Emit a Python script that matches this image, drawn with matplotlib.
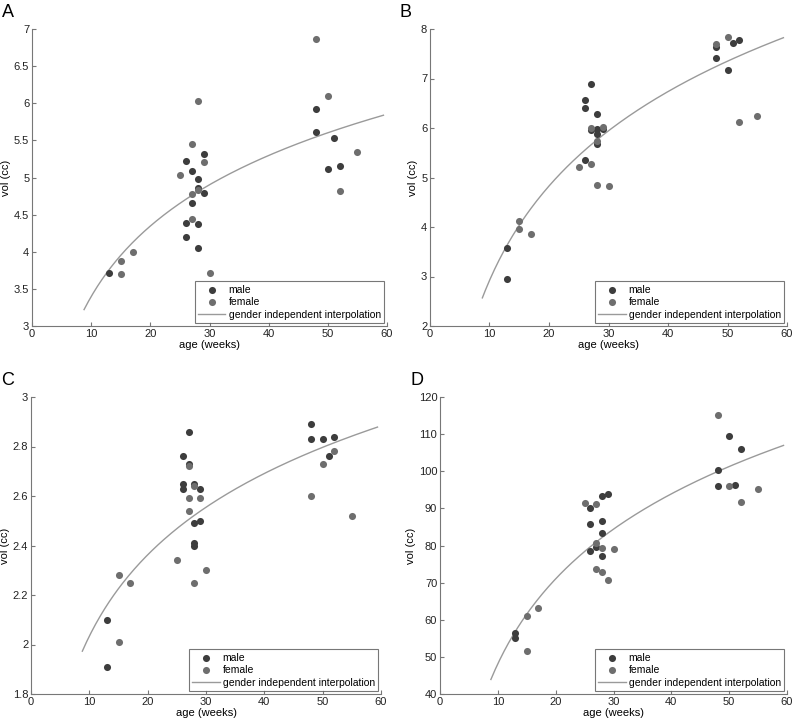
import numpy as np
import matplotlib
matplotlib.use("Agg")
import matplotlib.pyplot as plt

plt.rcParams['font.family'] = ['Liberation Sans', 'DejaVu Sans']

# panel A
a_male_age = [13, 26, 26, 26, 27, 27, 28, 28, 28, 28, 29, 29, 48, 48, 50, 51, 52]
a_male_vol = [3.72, 5.22, 4.39, 4.20, 5.09, 4.66, 4.98, 4.86, 4.37, 4.05, 5.32, 4.79, 5.92, 5.61, 5.11, 5.53, 5.16]
a_female_age = [15, 15, 17, 25, 27, 27, 27, 28, 28, 29, 30, 48, 50, 52, 55]
a_female_vol = [3.87, 3.70, 4.00, 5.04, 5.45, 4.78, 4.44, 6.03, 4.83, 5.21, 3.72, 6.87, 6.10, 4.82, 5.34]

# panel B
b_male_age = [13, 13, 26, 26, 26, 27, 27, 28, 28, 28, 28, 29, 48, 48, 50, 51, 52]
b_male_vol = [3.58, 2.95, 6.56, 6.41, 5.36, 6.88, 5.95, 6.28, 5.97, 5.87, 5.68, 5.98, 7.63, 7.42, 7.18, 7.71, 7.78]
b_female_age = [15, 15, 17, 25, 27, 27, 28, 28, 29, 30, 48, 50, 52, 55]
b_female_vol = [4.12, 3.95, 3.86, 5.21, 6.01, 5.28, 5.73, 4.85, 6.03, 4.82, 7.70, 7.83, 6.13, 6.25]

# panel C
c_male_age = [13, 13, 26, 26, 26, 27, 27, 28, 28, 28, 28, 29, 29, 48, 48, 50, 51, 52]
c_male_vol = [2.10, 1.91, 2.76, 2.65, 2.63, 2.86, 2.73, 2.65, 2.49, 2.41, 2.40, 2.63, 2.50, 2.89, 2.83, 2.83, 2.76, 2.84]
c_female_age = [15, 15, 17, 25, 27, 27, 27, 28, 28, 29, 30, 48, 50, 52, 55]
c_female_vol = [2.28, 2.01, 2.25, 2.34, 2.72, 2.59, 2.54, 2.64, 2.25, 2.59, 2.30, 2.60, 2.73, 2.78, 2.52]

# panel D
d_male_age = [13, 13, 26, 26, 26, 27, 28, 28, 28, 28, 29, 48, 48, 50, 51, 52]
d_male_vol = [56.5, 55.0, 90.1, 85.8, 78.4, 79.6, 93.4, 86.7, 83.5, 77.2, 94.0, 100.3, 96.0, 109.4, 96.4, 105.9]
d_female_age = [15, 15, 17, 25, 27, 27, 27, 28, 28, 29, 30, 48, 50, 52, 55]
d_female_vol = [61.0, 51.6, 63.2, 91.5, 91.2, 80.7, 73.7, 79.2, 72.8, 70.7, 79.1, 115.2, 96.0, 91.8, 95.1]

panels = [
    ("A", a_male_age, a_male_vol, a_female_age, a_female_vol, (3, 7), np.arange(3, 7.01, 0.5)),
    ("B", b_male_age, b_male_vol, b_female_age, b_female_vol, (2, 8), np.arange(2, 8.01, 1)),
    ("C", c_male_age, c_male_vol, c_female_age, c_female_vol, (1.8, 3), np.arange(1.8, 3.01, 0.2)),
    ("D", d_male_age, d_male_vol, d_female_age, d_female_vol, (40, 120), np.arange(40, 121, 10)),
]

# axes boxes in pixels: left, top, right, bottom
boxes = [(32, 29, 387, 326), (430, 29, 787, 326), (31, 397, 381, 694), (440, 397, 787, 694)]

W, H = 796, 719
fig = plt.figure(figsize=(W / 100, H / 100), dpi=100)

male_col = "#3d3d3d"
female_col = "#6e6e6e"

for (letter, ma, mv, fa, fv, ylim, yt), (l, t, r, b) in zip(panels, boxes):
    ax = fig.add_axes([l / W, 1 - b / H, (r - l) / W, (b - t) / H])
    ax.scatter(ma, mv, s=26, color=male_col, label="male", zorder=3, linewidths=0)
    ax.scatter(fa, fv, s=26, color=female_col, label="female", zorder=3, linewidths=0)

    # log fit on all points, gender independent
    ages = np.array(ma + fa, dtype=float)
    vols = np.array(mv + fv, dtype=float)
    coef = np.polyfit(np.log(ages), vols, 1)
    xx = np.linspace(8.8, 59.4, 200)
    ax.plot(xx, np.polyval(coef, np.log(xx)), color="#9a9a9a", lw=1.0,
            label="gender independent interpolation", zorder=2)

    ax.set_xlim(0, 60)
    ax.set_ylim(*ylim)
    ax.set_xticks(range(0, 61, 10))
    ax.set_yticks(yt)
    ax.set_yticklabels(["%g" % round(v, 2) for v in yt])
    ax.spines["top"].set_visible(False)
    ax.spines["right"].set_visible(False)
    for s in ("left", "bottom"):
        ax.spines[s].set_color("#777777")
        ax.spines[s].set_linewidth(0.8)
    ax.tick_params(direction="in", length=3, labelsize=8, colors="#777777", labelcolor="#222222", pad=2)
    ax.set_xlabel("age (weeks)", fontsize=8, labelpad=1)
    ax.set_ylabel("vol (cc)", fontsize=8, labelpad=2)
    ax.text(-0.085, 1.085, letter, transform=ax.transAxes, fontsize=13, ha="left", va="top")
    leg = ax.legend(loc="lower right", fontsize=7.5, frameon=True, fancybox=False,
                    borderpad=0.35, labelspacing=0.25, handlelength=2.6, handletextpad=0.3,
                    borderaxespad=0.25)
    leg.get_frame().set_edgecolor("#555555")
    leg.get_frame().set_linewidth(0.8)

fig.savefig("out.png", dpi=100)
